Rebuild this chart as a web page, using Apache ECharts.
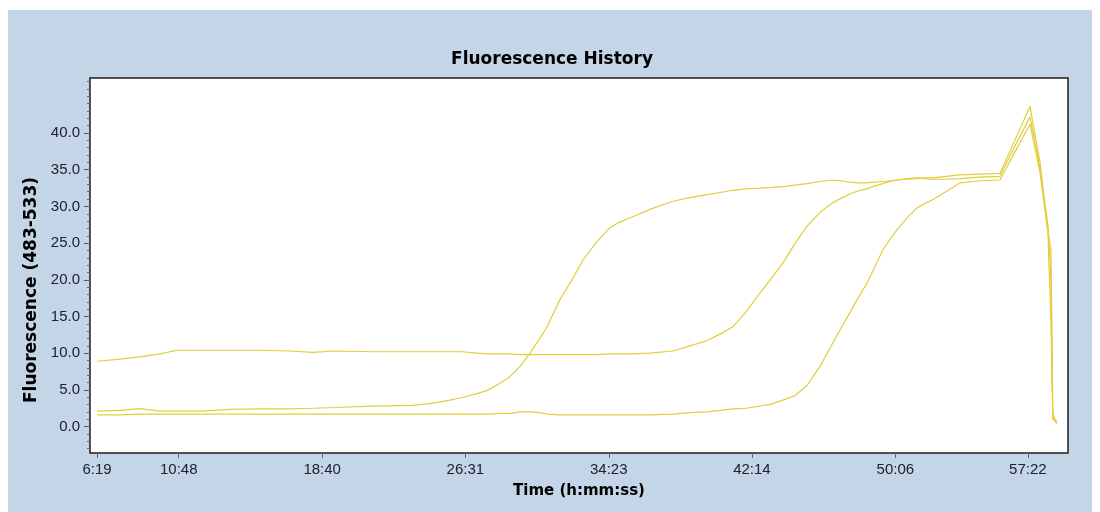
<!DOCTYPE html>
<html>
<head>
<meta charset="utf-8">
<script src="https://cdn.jsdelivr.net/npm/echarts@6/dist/echarts.min.js"></script>
<style>html,body{margin:0;padding:0;background:#fff;}#c{width:1100px;height:512px;}</style>
</head>
<body>
<div id="c"></div>
<script>
// ---- data ----
const titleText = 'Fluorescence History';
const xName = 'Time (h:mm:ss)';
const yName = 'Fluorescence (483-533)';
const xTickLabels = ['6:19','10:48','18:40','26:31','34:23','42:14','50:06','57:22'];
const yTickValues = [0,5,10,15,20,25,30,35,40];
const xRange = [356, 3574];      // seconds
const yRange = [-3.6, 47.5];

// sample times (seconds)
const times = [379,455,520,586,642,718,817,915,1014,1090,1162,1287,1419,1484,1540,1583,1629,1662,1705,1738,1771,1804,1836,1860,1902,1942,1978,2024,2067,2100,2142,2198,2274,2330,2386,2429,2471,2514,2560,2600,2636,2675,2715,2758,2800,2827,2856,2883,2912,2939,2965,2988,3011,3044,3077,3103,3129,3172,3218,3284,3350,3399,3449,3482,3508,3518,3524,3537];
const curveA = [2.1,2.2,2.45,2.1,2.1,2.1,2.35,2.4,2.4,2.5,2.6,2.8,2.9,3.2,3.6,4.0,4.5,4.9,5.9,6.8,8.2,10.0,12.0,13.6,17.3,20.0,22.7,25.2,27.1,27.9,28.6,29.6,30.7,31.2,31.6,31.9,32.2,32.4,32.5,32.6,32.7,32.9,33.1,33.4,33.6,33.5,33.3,33.2,33.2,33.3,33.4,33.5,33.6,33.7,33.8,33.9,33.9,34.1,34.3,34.4,34.5,39.0,43.6,36.0,26.5,24.0,1.8,0.5];
const curveB = [8.9,9.2,9.5,9.9,10.4,10.4,10.4,10.4,10.3,10.1,10.3,10.2,10.2,10.2,10.2,10.2,10.0,9.9,9.9,9.9,9.8,9.8,9.8,9.8,9.8,9.8,9.8,9.8,9.9,9.9,9.9,10.0,10.3,11.0,11.7,12.6,13.6,15.6,18.2,20.3,22.3,24.9,27.3,29.2,30.5,31.1,31.7,32.1,32.4,32.8,33.1,33.4,33.6,33.8,33.9,33.8,33.7,33.7,33.8,34.0,34.1,38.2,42.2,35.2,27.5,20.0,1.2,0.4];
const curveC = [1.6,1.6,1.7,1.7,1.7,1.7,1.7,1.7,1.7,1.7,1.7,1.7,1.7,1.7,1.7,1.7,1.7,1.7,1.8,1.8,2.0,2.0,1.9,1.7,1.6,1.6,1.6,1.6,1.6,1.6,1.6,1.6,1.7,1.9,2.0,2.2,2.4,2.5,2.8,3.1,3.6,4.2,5.6,8.2,11.4,13.4,15.5,17.5,19.5,21.8,24.1,25.5,26.8,28.4,29.8,30.4,30.9,32.0,33.2,33.5,33.6,37.4,41.2,34.6,26.5,14.0,1.0,0.6];

// ---- build ----
const toSec = s => { const p = s.split(':'); return (+p[0]) * 60 + (+p[1]); };
const xTickSeconds = xTickLabels.map(toSec);
const fmtTime = v => { const m = Math.floor(v / 60), s = Math.round(v % 60); return m + ':' + (s < 10 ? '0' : '') + s; };
const minorTicks = [];
for (let v = Math.ceil(yRange[0]); v <= Math.floor(yRange[1]); v++) minorTicks.push(v);
const pair = arr => times.map((t, i) => [t, arr[i]]);

const lineColor = '#e2cd3a';
const labelFont = { color: '#202030', fontSize: 15, fontFamily: 'Liberation Sans, Arial, sans-serif' };
const boldFont = { color: '#000', fontWeight: 'bold', fontFamily: 'DejaVu Sans, sans-serif' };

const chart = echarts.init(document.getElementById('c'));
chart.setOption({
  animation: false,
  backgroundColor: '#c3d5e6',
  graphic: [
    { type: 'rect', shape: { x: 0, y: 0, width: 1100, height: 10 }, style: { fill: '#ffffff' }, silent: true },
    { type: 'rect', shape: { x: 0, y: 0, width: 8, height: 512 }, style: { fill: '#ffffff' }, silent: true },
    { type: 'rect', shape: { x: 1092, y: 0, width: 8, height: 512 }, style: { fill: '#ffffff' }, silent: true }
  ],
  title: {
    text: titleText, left: 547, top: 46, textAlign: 'center',
    textStyle: Object.assign({}, boldFont, { fontSize: 17 })
  },
  grid: {
    left: 90, top: 78, right: 32, bottom: 59,
    show: true, backgroundColor: '#ffffff', borderColor: '#1e1e1e', borderWidth: 1.5
  },
  xAxis: {
    type: 'value', min: xRange[0], max: xRange[1],
    name: xName, nameLocation: 'middle', nameGap: 31,
    nameTextStyle: Object.assign({}, boldFont, { fontSize: 15 }),
    axisLine: { show: false, onZero: false },
    splitLine: { show: false },
    axisTick: { show: true, inside: false, length: 5, customValues: xTickSeconds, lineStyle: { color: '#666' } },
    axisLabel: { customValues: xTickSeconds, formatter: fmtTime, margin: 9, ...labelFont }
  },
  yAxis: [{
    type: 'value', min: yRange[0], max: yRange[1],
    name: yName, nameLocation: 'middle', nameGap: 47,
    nameTextStyle: Object.assign({}, boldFont, { fontSize: 17, padding: [0, 49, 0, 0] }),
    axisLine: { show: false, onZero: false },
    splitLine: { show: false },
    axisTick: { show: true, inside: false, length: 6, customValues: yTickValues, lineStyle: { color: '#555' } },
    axisLabel: { customValues: yTickValues, formatter: v => v.toFixed(1), margin: 10, ...labelFont }
  }, {
    type: 'value', min: yRange[0], max: yRange[1], position: 'left',
    axisLine: { show: false, onZero: false }, splitLine: { show: false }, axisLabel: { show: false },
    axisTick: { show: true, inside: false, length: 3, customValues: minorTicks, lineStyle: { color: '#666' } }
  }],
  series: [curveA, curveB, curveC].map(arr => ({
    type: 'line', data: pair(arr), showSymbol: false, symbol: 'none',
    smooth: false,
    lineStyle: { color: lineColor, width: 1.2 }, silent: true
  }))
});
</script>
</body>
</html>
